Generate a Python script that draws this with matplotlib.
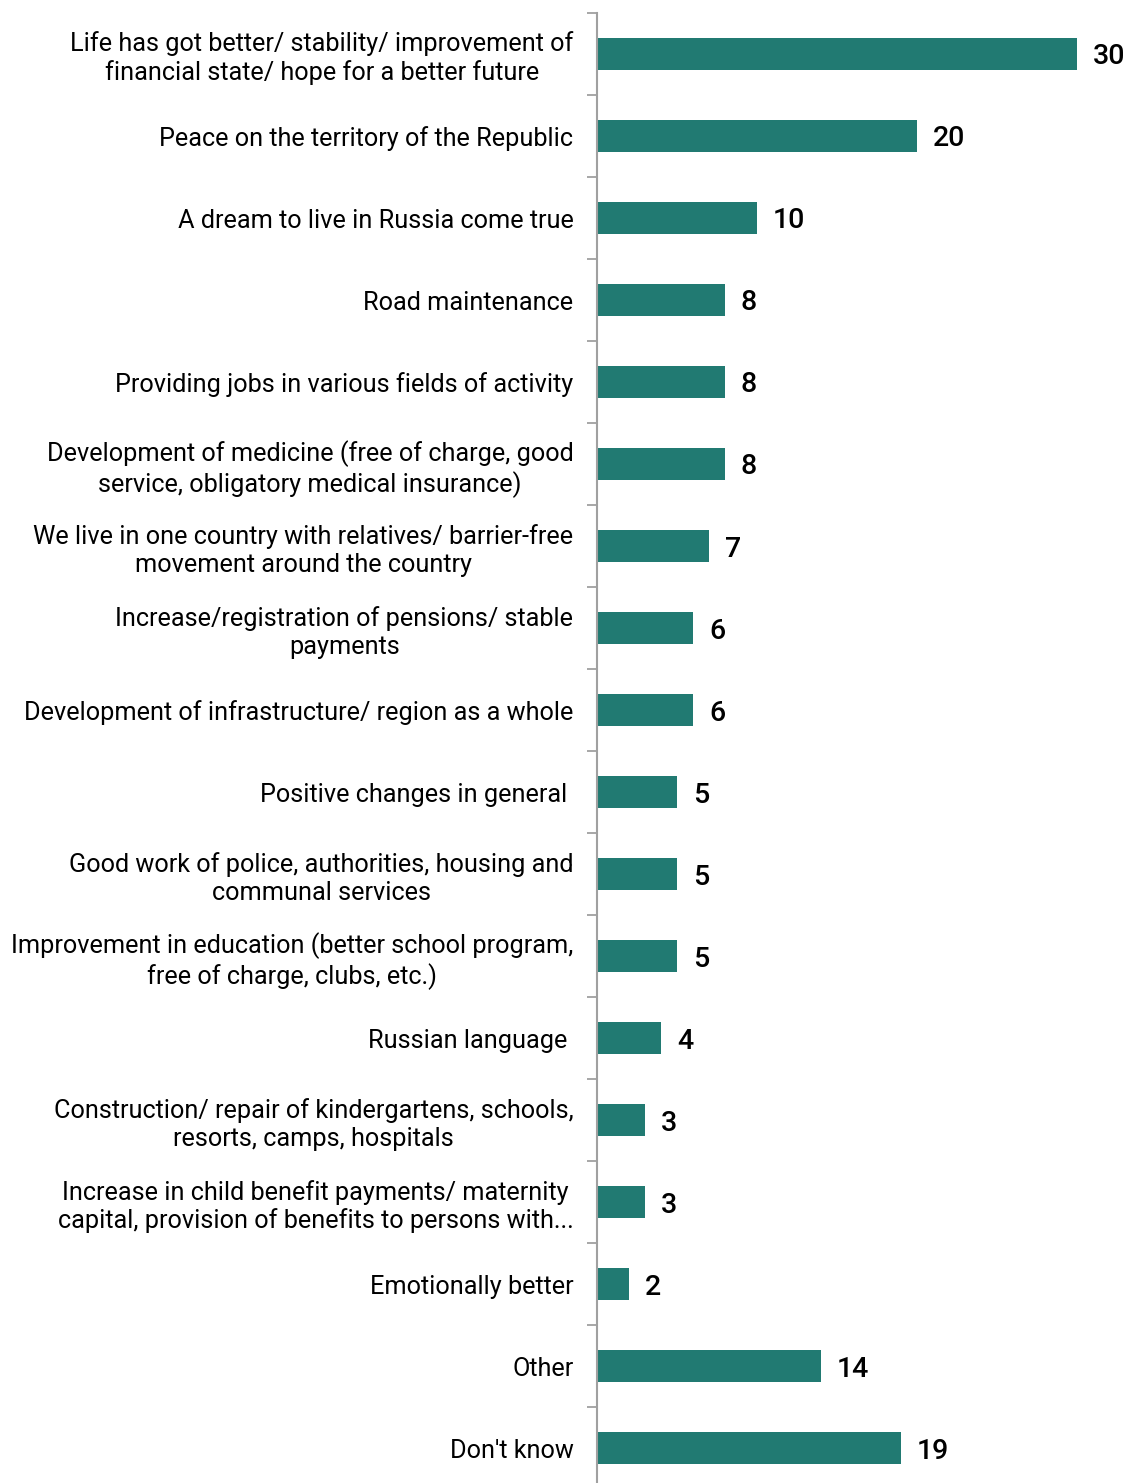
import matplotlib
matplotlib.use("Agg")
import matplotlib.pyplot as plt

# Data
categories = [
    "Life has got better/ stability/ improvement of\nfinancial state/ hope for a better future",
    "Peace on the territory of the Republic",
    "A dream to live in Russia come true",
    "Road maintenance",
    "Providing jobs in various fields of activity",
    "Development of medicine (free of charge, good\nservice, obligatory medical insurance)",
    "We live in one country with relatives/ barrier-free\nmovement around the country",
    "Increase/registration of pensions/ stable\npayments",
    "Development of infrastructure/ region as a whole",
    "Positive changes in general ",
    "Good work of police, authorities, housing and\ncommunal services",
    "Improvement in education (better school program,\nfree of charge, clubs, etc.)",
    "Russian language ",
    "Construction/ repair of kindergartens, schools,\nresorts, camps, hospitals",
    "Increase in child benefit payments/ maternity\ncapital, provision of benefits to persons with...",
    "Emotionally better",
    "Other",
    "Don't know",
]
values = [30, 20, 10, 8, 8, 8, 7, 6, 6, 5, 5, 5, 4, 3, 3, 2, 14, 19]

bar_color = "#217a72"
plt.rcParams["font.family"] = ["Roboto", "DejaVu Sans"]

W, H = 1128, 1483
fig = plt.figure(figsize=(W / 100, H / 100), dpi=100)
ax_left = 597 / W
ax_top = 1 - 13 / H
ax_bottom = 1 - 1489 / H
ax = fig.add_axes([ax_left, ax_bottom, 1 - ax_left, ax_top - ax_bottom])

n = len(categories)
ypos = list(range(n))
ax.barh(ypos, values, height=0.39, color=bar_color)
ax.set_ylim(n - 0.5, -0.5)
ax.set_xlim(0, (W - 597) / 16)

# value labels next to the bars
for y, v in zip(ypos, values):
    ax.text(v + 1.0, y, str(v), va="center_baseline", ha="left", fontsize=20.5,
            fontweight="medium", color="black")

ax.set_yticks([i - 0.5 for i in range(n + 1)], minor=False)
ax.set_yticklabels([])
ax.set_yticks(ypos, minor=True)
ax.set_yticklabels(categories, minor=True, fontsize=18.2, multialignment="center",
                   linespacing=1.2)
ax.tick_params(axis="y", which="major", length=7, width=1.3, color="#a0a0a0", direction="out")
ax.tick_params(axis="y", which="minor", length=0, pad=17)
ax.set_xticks([])
for s in ["top", "right", "bottom"]:
    ax.spines[s].set_visible(False)
ax.spines["left"].set_color("#a0a0a0")
ax.spines["left"].set_linewidth(1.5)

fig.savefig("out.png", dpi=100)
